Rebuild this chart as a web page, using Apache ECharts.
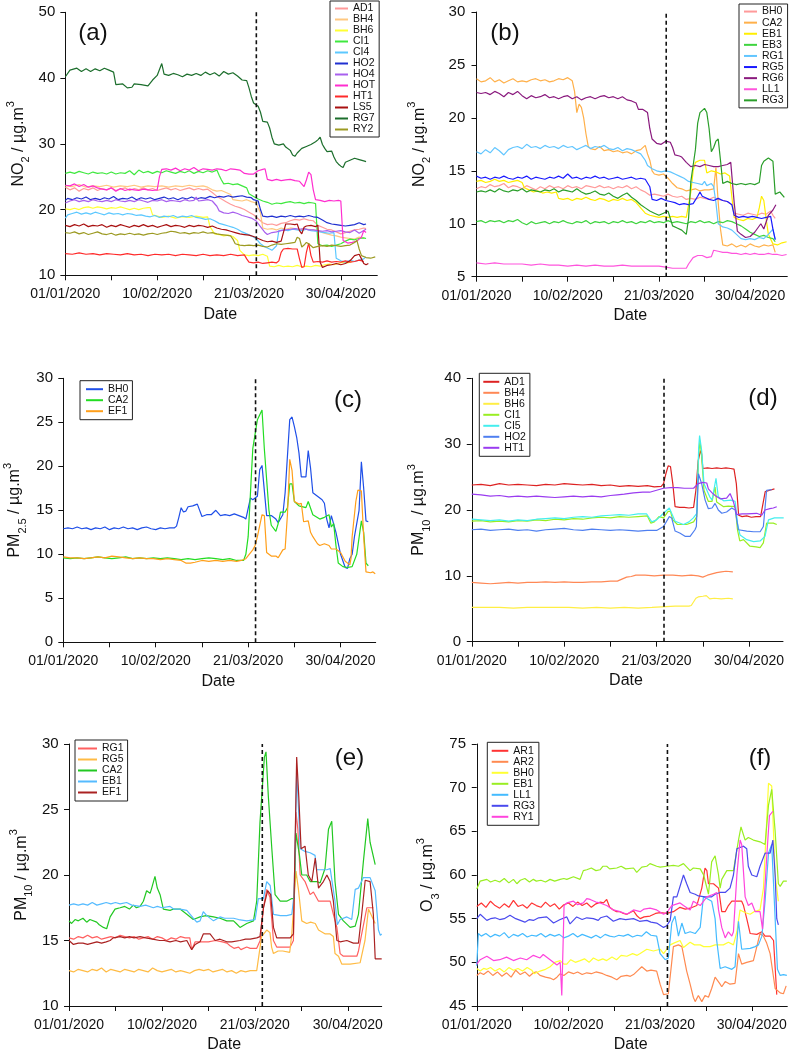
<!DOCTYPE html>
<html><head><meta charset="utf-8">
<script src="https://cdn.jsdelivr.net/npm/echarts@6/dist/echarts.min.js"></script>
<style>html,body{margin:0;padding:0;background:#fff}#c{width:791px;height:1054px}</style>
</head><body><div id="c"></div>
<script>
// ---------- axis ticks ----------
const xTickDays = [0, 40, 80, 120];
const xTickLabels = ['01/01/2020', '10/02/2020', '21/03/2020', '30/04/2020'];
const xMinorDays = [0, 20, 40, 60, 80, 100, 120];
const lockdownDay = 83.2;

// ---------- panel (a) NO2 ----------
const a_AD1 = [0,23.4, 2,23.0, 4,23.3, 6,22.8, 8,23.2, 10,23.0, 12,23.3, 14,22.9, 16,23.2, 18,23.0, 20,23.3, 22,22.9, 24,23.1, 26,23.3, 28,22.9, 30,23.2, 32,23.0, 34,23.3, 36,23.0, 38,23.2, 40,22.9, 42,23.1, 44,23.3, 46,23.0, 48,23.2, 50,22.9, 52,23.1, 54,23.3, 56,23.0, 58,23.2, 60,23.0, 62,23.1, 64,22.6, 66,22.0, 68,21.6, 70,21.2, 72,20.8, 74,20.5, 76,20.3, 78,20.0, 80,19.6, 82,19.2, 84,18.6, 86,18.0, 88,17.7, 90,17.8, 92,17.6, 94,17.9, 96,18.0, 98,18.3, 100,18.5, 102,18.4, 104,18.6, 106,18.4, 108,18.3, 110,17.6, 112,17.3, 114,17.0, 116,16.9, 118,16.6, 120,16.3, 122,16.5, 124,16.7, 126,16.9, 128,17.0, 130,17.2, 131,17.1];
const a_BH4 = [0,23.6, 3,23.5, 6,23.8, 9,23.4, 12,23.6, 15,23.5, 18,23.7, 21,23.4, 24,23.6, 27,23.5, 30,23.7, 33,23.4, 36,23.6, 39,23.5, 42,23.6, 45,23.4, 48,23.6, 51,23.5, 54,23.7, 57,23.5, 60,23.6, 62,23.4, 64,23.0, 66,22.8, 68,22.9, 70,22.6, 72,22.3, 73,21.5, 75,21.4, 77,21.3, 79,21.5, 81,21.2, 83,21.0, 85,19.5, 86,17.2, 88,17.0, 90,17.1, 92,16.9, 94,17.2, 96,17.0, 98,17.2, 100,17.1, 102,16.9, 104,17.1, 106,17.0, 108,16.9, 110,16.8, 112,16.5, 114,16.3, 116,16.1, 118,16.0, 120,15.8, 122,15.7, 124,15.6, 126,15.5, 128,15.8, 130,15.7];
const a_BH6 = [0,20.1, 2,20.0, 4,20.2, 6,20.0, 8,20.3, 10,20.4, 12,20.2, 14,20.4, 16,20.3, 18,20.1, 20,20.3, 22,20.2, 24,20.4, 26,20.2, 28,20.0, 30,20.2, 32,20.0, 34,20.2, 36,20.3, 37,20.3, 38,19.2, 40,19.0, 42,18.8, 45,19.0, 48,18.7, 51,18.9, 54,18.8, 57,19.0, 60,18.8, 62,18.9, 63,17.4, 65,16.3, 67,16.2, 69,16.0, 71,16.1, 73,15.9, 75,15.3, 76,13.8, 78,13.1, 80,13.0, 82,13.1, 84,13.0, 86,13.2, 88,12.9, 89,11.4, 91,11.3, 93,11.5, 95,11.3, 97,11.4, 99,11.3, 101,11.5, 103,11.3, 105,11.4, 107,11.3, 109,11.5, 111,11.4, 113,11.6, 115,11.7, 117,11.6, 119,11.8, 121,12.0, 123,11.9, 125,12.1];
const a_CI1 = [0,25.5, 2,25.7, 4,25.5, 6,25.8, 8,25.6, 10,25.4, 12,25.7, 14,25.5, 16,25.6, 18,25.4, 20,25.7, 22,25.4, 24,25.6, 26,25.5, 28,25.9, 30,25.3, 32,26.0, 34,25.6, 36,25.8, 38,25.5, 40,25.8, 42,25.6, 44,25.9, 46,25.7, 48,25.5, 50,25.8, 52,25.6, 54,25.9, 56,25.5, 58,25.8, 60,25.6, 62,25.9, 64,25.7, 66,26.0, 67,25.2, 68,24.5, 69,23.9, 71,24.0, 73,23.8, 75,23.9, 77,23.6, 79,23.3, 80,22.4, 82,22.0, 84,21.6, 86,21.3, 88,21.1, 90,20.8, 92,21.0, 94,20.9, 96,21.1, 98,21.2, 100,21.0, 102,21.1, 104,20.9, 106,21.1, 108,21.0, 109,20.9, 110,14.8, 112,14.5, 114,14.6, 116,14.4, 118,14.6, 120,14.8, 122,15.2, 124,15.5, 126,15.4, 128,15.6, 130,15.7, 131,15.6];
const a_CI4 = [0,18.7, 1,19.2, 3,19.4, 5,19.6, 7,19.3, 9,19.5, 11,19.3, 13,19.6, 15,19.4, 17,19.2, 19,19.5, 21,19.3, 23,19.4, 25,19.2, 27,19.4, 29,19.3, 31,19.1, 33,19.2, 35,19.0, 37,18.9, 39,19.1, 41,18.8, 43,19.0, 45,18.9, 47,19.1, 49,18.8, 51,19.0, 53,18.9, 55,19.1, 57,18.8, 59,18.7, 61,18.5, 63,18.6, 65,18.3, 67,17.9, 69,17.7, 71,17.5, 73,17.3, 75,17.0, 77,16.6, 79,16.3, 81,16.0, 83,15.6, 85,14.8, 87,14.3, 89,14.0, 90,13.8, 92,14.5, 93,16.8, 95,16.9, 97,16.8, 99,17.0, 101,16.9, 103,16.8, 105,17.0, 107,16.8, 109,16.7, 111,16.6, 113,16.5, 115,16.4, 117,16.5, 118,12.6, 120,12.2, 122,12.0, 124,12.3, 126,12.1, 128,12.3, 130,12.5, 131,12.8];
const a_HO2 = [0,21.4, 1,21.7, 3,21.5, 5,21.8, 7,21.6, 9,21.9, 11,21.5, 13,21.7, 15,21.5, 17,21.8, 19,21.6, 21,22.0, 23,21.5, 25,21.7, 27,21.6, 29,21.9, 31,21.5, 33,21.8, 35,21.6, 37,21.8, 39,21.5, 41,21.7, 43,21.9, 45,21.6, 47,21.8, 49,21.5, 51,21.8, 53,21.6, 55,21.9, 57,21.6, 59,21.8, 61,21.7, 63,22.0, 65,21.8, 67,22.0, 69,21.9, 71,22.1, 73,21.9, 75,22.0, 77,22.1, 79,21.9, 81,21.8, 82,21.5, 84,21.3, 85,20.0, 86,19.0, 88,18.9, 90,19.0, 92,18.8, 94,19.0, 96,18.9, 98,19.1, 100,18.9, 102,19.0, 104,18.9, 106,19.1, 108,18.9, 110,18.8, 112,18.4, 114,18.0, 116,17.8, 118,17.7, 120,17.6, 122,17.5, 124,17.6, 126,17.7, 128,18.0, 130,17.7, 131,17.8];
const a_HO4 = [0,21.0, 2,21.3, 4,21.5, 6,21.2, 8,21.4, 10,21.2, 12,21.5, 14,21.3, 16,21.2, 18,21.4, 20,21.2, 22,21.5, 24,21.3, 26,21.2, 28,21.4, 30,21.2, 32,21.5, 34,21.3, 36,21.1, 38,21.4, 40,21.3, 42,21.5, 44,21.2, 46,21.4, 48,21.3, 50,21.2, 52,21.5, 54,21.3, 56,21.4, 57,21.9, 58,21.3, 60,21.4, 62,21.5, 64,21.3, 66,20.5, 67,19.8, 69,19.5, 71,19.4, 73,19.6, 75,19.4, 77,19.1, 79,18.9, 81,18.7, 83,18.3, 85,17.4, 87,16.5, 88,16.2, 90,16.5, 92,16.6, 94,16.8, 96,16.9, 98,17.0, 100,17.1, 102,17.0, 104,17.1, 106,16.9, 108,16.9, 110,16.8, 112,16.7, 114,16.8, 116,16.6, 118,16.7, 120,16.8, 122,16.6, 124,16.5, 126,16.9, 128,16.4, 130,16.8, 131,17.0];
const a_HOT = [0,23.7, 2,23.6, 4,23.9, 6,23.5, 8,23.8, 10,23.4, 12,23.6, 14,23.3, 16,23.1, 18,23.0, 20,23.3, 22,22.8, 24,23.2, 26,22.9, 28,23.1, 30,23.0, 32,22.9, 34,23.1, 36,23.0, 38,22.9, 40,23.0, 41,25.0, 42,26.1, 44,26.2, 46,26.0, 48,26.3, 50,25.9, 52,26.2, 54,26.0, 56,26.4, 58,25.9, 60,26.2, 62,26.1, 64,26.0, 66,26.2, 68,26.1, 70,25.9, 72,26.2, 74,26.1, 76,26.0, 78,25.5, 80,25.4, 82,25.4, 84,25.9, 86,26.1, 87,26.2, 88,24.6, 90,24.4, 92,24.6, 94,24.4, 96,24.5, 98,24.6, 100,24.4, 102,24.3, 104,23.5, 105,24.5, 106,25.7, 107,25.3, 108,23.0, 109,21.5, 111,21.4, 113,21.2, 115,21.4, 117,21.3, 119,21.4, 120,21.3, 121,15.3, 123,14.9, 125,15.0, 127,15.2, 129,15.8, 130,16.8, 131,16.5];
const a_HT1 = [0,13.3, 3,13.2, 6,13.4, 9,13.2, 12,13.3, 15,13.1, 18,13.3, 21,13.2, 24,13.1, 27,13.3, 30,13.1, 33,13.2, 36,13.0, 39,13.2, 42,13.1, 45,13.2, 48,13.0, 51,13.2, 54,13.1, 57,13.0, 60,13.2, 63,13.0, 66,13.1, 69,13.0, 72,13.2, 75,13.0, 78,13.1, 79,12.5, 80,12.0, 82,11.9, 84,12.0, 86,11.8, 88,11.9, 90,12.0, 92,11.9, 93,12.2, 94,13.5, 95,14.0, 97,14.1, 99,14.0, 101,14.0, 102,12.5, 103,11.2, 104,11.3, 105,13.5, 106,14.9, 107,13.0, 108,12.0, 110,12.1, 112,12.0, 114,12.2, 116,12.0, 118,12.1, 120,12.0, 122,12.2, 124,12.0, 126,12.1, 128,12.3, 130,12.1];
const a_LS5 = [0,17.6, 2,17.4, 4,17.7, 6,17.5, 8,17.8, 10,17.4, 12,17.6, 14,17.5, 16,17.7, 18,17.3, 20,17.6, 22,17.4, 24,17.7, 26,17.5, 28,17.3, 30,17.6, 32,17.4, 34,17.7, 36,17.4, 38,17.6, 40,17.3, 42,17.5, 44,17.7, 46,17.4, 48,17.6, 50,17.5, 52,17.3, 54,17.6, 56,17.4, 58,17.6, 60,17.5, 62,17.3, 64,17.5, 66,17.2, 68,17.0, 70,16.9, 72,16.7, 74,16.5, 76,16.3, 78,16.2, 80,16.1, 82,15.9, 84,15.6, 86,15.3, 88,15.1, 90,15.2, 92,15.0, 94,15.2, 95,16.5, 96,17.8, 98,17.8, 100,17.7, 101,17.8, 102,16.8, 103,16.3, 104,17.3, 105,17.5, 107,17.6, 109,17.4, 110,17.6, 111,12.0, 112,11.2, 114,11.5, 116,11.6, 118,11.8, 120,11.6, 122,11.8, 124,12.2, 126,13.0, 128,13.2, 129,12.5, 130,11.8, 131,11.6, 132,11.8];
const a_RG7 = [0,40.2, 2,41.2, 5,41.5, 7,41.0, 9,41.4, 11,41.0, 13,41.4, 15,41.1, 17,41.5, 19,41.2, 21,40.9, 22,39.0, 25,39.1, 27,38.5, 29,38.6, 30,39.1, 33,39.0, 36,38.8, 38,39.7, 40,40.4, 42,42.2, 43,40.6, 45,40.4, 47,40.7, 49,40.5, 51,40.2, 53,40.6, 55,40.4, 57,40.7, 59,40.4, 61,40.9, 63,40.5, 65,40.8, 67,40.3, 69,41.0, 71,40.6, 73,40.8, 75,40.3, 77,39.7, 79,39.6, 80,38.5, 81,37.2, 82,36.2, 84,35.7, 85,34.8, 86,33.4, 88,33.3, 89,32.4, 90,31.0, 91,30.0, 93,29.8, 95,30.0, 96,29.5, 98,29.0, 99,28.3, 100,28.1, 101,28.6, 103,29.3, 105,29.6, 107,29.9, 109,30.3, 110,30.6, 111,31.0, 112,29.9, 113,29.3, 114,28.8, 116,28.9, 117,28.0, 118,27.3, 119,26.9, 120,26.6, 121,26.4, 122,27.2, 124,27.5, 126,27.8, 128,27.6, 130,27.4, 131,27.3];
const a_RY2 = [0,16.5, 2,16.4, 4,16.6, 6,16.3, 8,16.5, 10,16.2, 12,16.4, 14,16.6, 16,16.3, 18,16.2, 20,16.4, 22,16.1, 24,16.3, 26,16.2, 28,16.4, 30,16.2, 32,16.3, 34,16.1, 36,16.3, 38,16.4, 40,16.2, 42,16.4, 44,16.5, 46,16.7, 48,16.6, 50,16.4, 52,16.5, 54,16.3, 56,16.5, 58,16.4, 60,16.6, 62,16.4, 64,16.5, 66,16.3, 68,16.2, 70,16.1, 72,16.0, 73,15.5, 74,14.8, 76,14.6, 78,14.5, 80,14.6, 82,14.5, 84,14.6, 86,14.4, 88,14.3, 90,14.6, 92,14.8, 94,14.7, 96,14.8, 98,14.9, 100,15.0, 101,15.8, 102,15.6, 103,14.3, 104,14.6, 105,15.0, 106,14.8, 108,14.2, 110,14.4, 112,14.5, 114,14.4, 116,14.6, 118,14.5, 120,14.4, 122,14.5, 124,14.6, 126,15.0, 127,15.3, 128,14.0, 129,13.0, 131,12.7, 133,12.6, 135,12.8];

// ---------- panel (b) NO2 ----------
const b_BH0 = [0,13.3, 2,13.5, 4,13.4, 6,13.7, 8,13.5, 10,13.6, 12,13.8, 14,13.4, 16,13.6, 18,13.5, 20,13.3, 22,13.6, 24,13.4, 26,13.2, 28,13.5, 30,13.3, 32,13.6, 34,13.4, 36,13.5, 38,13.3, 40,13.6, 42,13.4, 44,13.5, 46,13.3, 48,13.6, 50,13.5, 52,13.4, 54,13.6, 56,13.4, 58,13.5, 60,13.3, 62,13.5, 64,13.4, 66,13.6, 68,13.3, 70,13.5, 72,13.2, 74,13.0, 76,12.7, 78,12.8, 80,12.7, 82,12.6, 84,12.8, 86,12.6, 88,12.5, 90,12.6, 92,12.3, 94,12.4, 96,12.3, 98,12.5, 100,12.4, 102,12.3, 104,12.5, 106,12.3, 108,12.2, 110,12.1, 112,11.8, 113,11.0, 115,10.9, 117,10.8, 119,11.0, 121,10.9, 123,10.8, 125,11.0, 127,10.9, 129,11.2, 130,10.8, 131,10.5];
const b_CA2 = [0,23.7, 2,23.4, 4,23.5, 6,23.8, 8,23.4, 10,23.6, 12,23.3, 14,23.5, 16,23.7, 18,23.4, 20,23.5, 22,23.4, 24,23.6, 26,23.7, 28,23.5, 30,23.6, 32,23.4, 34,23.5, 36,23.7, 38,23.6, 40,23.8, 42,23.5, 43,22.5, 44,20.5, 45,21.3, 46,21.0, 47,20.0, 48,18.5, 49,17.3, 50,17.1, 52,17.0, 54,17.3, 56,16.9, 58,17.0, 60,16.8, 62,16.9, 64,16.7, 66,16.8, 68,16.6, 70,16.9, 72,17.0, 74,17.4, 75,16.6, 76,16.0, 77,15.0, 78,14.7, 80,14.6, 82,14.7, 84,14.3, 86,13.8, 88,13.4, 90,13.3, 92,13.1, 94,13.2, 96,13.3, 98,13.1, 100,13.2, 102,13.2, 104,13.3, 105,15.3, 106,12.0, 107,9.5, 108,8.0, 110,7.9, 112,8.1, 114,7.8, 116,8.0, 118,7.8, 120,8.1, 122,7.9, 124,7.8, 126,8.0, 128,7.9, 130,8.0, 131,7.3];
const b_EB1 = [0,14.0, 2,14.1, 4,13.9, 6,14.0, 8,14.2, 10,14.0, 12,14.1, 14,13.9, 16,14.0, 18,14.1, 20,13.9, 21,13.4, 23,13.2, 25,13.0, 27,13.1, 29,12.9, 31,13.0, 33,12.9, 35,13.0, 36,12.4, 38,12.3, 40,12.4, 42,12.2, 44,12.4, 46,12.3, 48,12.5, 50,12.3, 52,12.2, 54,12.4, 56,12.3, 58,12.1, 60,12.3, 62,12.2, 64,12.4, 66,12.2, 68,12.3, 70,12.0, 72,11.5, 74,11.0, 76,10.8, 78,10.7, 80,10.6, 82,10.7, 84,10.6, 86,10.7, 88,10.6, 90,10.7, 92,10.6, 93,11.8, 94,13.0, 95,15.0, 96,15.8, 98,16.0, 100,16.0, 101,14.8, 103,15.0, 105,14.9, 107,14.7, 109,14.8, 111,14.5, 112,12.5, 113,10.6, 115,10.4, 117,10.3, 119,10.5, 121,10.4, 123,10.6, 124,11.5, 125,12.6, 126,12.2, 127,10.5, 128,9.0, 130,8.1, 132,8.0, 134,8.2, 136,8.3];
const b_EB3 = [0,10.2, 2,10.3, 4,10.1, 6,10.3, 8,10.2, 10,10.3, 12,10.1, 14,10.3, 16,10.2, 18,10.4, 20,10.1, 22,9.9, 24,10.2, 26,10.0, 28,10.1, 30,10.2, 32,10.0, 34,10.2, 36,10.1, 38,10.3, 40,10.1, 42,10.0, 44,10.2, 46,10.1, 48,10.3, 50,10.0, 52,10.2, 54,10.1, 56,10.2, 58,10.0, 60,10.2, 62,10.1, 64,10.3, 66,10.1, 68,10.2, 70,10.0, 72,10.2, 74,10.1, 76,10.3, 78,10.1, 80,10.2, 82,10.1, 84,10.3, 86,10.1, 88,10.2, 90,10.1, 92,10.0, 94,10.2, 96,10.1, 98,10.3, 100,10.1, 102,10.2, 104,10.0, 106,10.2, 108,10.1, 110,10.3, 112,10.2, 114,10.0, 116,9.8, 118,9.5, 120,9.2, 122,9.0, 124,8.8, 126,8.9, 128,8.7, 130,8.6, 131,8.3];
const b_RG1 = [0,16.8, 2,16.6, 4,17.0, 6,16.7, 8,17.2, 10,16.9, 12,16.5, 14,17.0, 16,17.2, 18,17.3, 20,17.1, 22,17.5, 24,17.2, 26,17.3, 28,17.1, 30,17.4, 32,17.2, 34,17.3, 36,17.1, 38,17.4, 40,17.2, 42,17.3, 44,17.0, 46,17.2, 48,17.4, 50,17.1, 52,17.3, 54,17.2, 56,17.4, 58,17.1, 60,17.0, 62,17.2, 64,16.9, 66,17.1, 68,17.0, 70,16.8, 72,16.6, 74,16.0, 75,15.5, 77,15.2, 79,15.0, 81,14.9, 83,15.0, 85,14.9, 87,14.7, 89,14.5, 91,14.3, 93,14.0, 95,13.9, 97,13.8, 99,13.7, 100,14.0, 101,13.6, 103,13.8, 104,13.5, 105,12.0, 106,10.0, 108,9.7, 110,9.6, 112,9.4, 114,9.0, 116,8.6, 118,8.5, 120,8.6, 122,8.5, 124,8.7, 126,8.6, 128,9.0, 130,9.5, 131,8.5];
const b_RG5 = [0,14.5, 2,14.3, 4,14.4, 6,14.2, 8,14.4, 10,14.3, 12,14.5, 14,14.3, 16,14.2, 18,14.4, 20,14.3, 22,14.5, 24,14.2, 26,14.4, 28,14.3, 30,14.2, 32,14.4, 34,14.3, 36,14.5, 38,14.3, 40,14.7, 42,14.3, 44,14.4, 46,14.2, 48,14.4, 50,14.3, 52,14.5, 54,14.3, 56,14.4, 58,14.2, 60,14.3, 62,14.4, 64,14.2, 66,14.3, 68,14.4, 70,14.2, 72,14.3, 74,14.2, 76,13.5, 77,12.3, 79,12.2, 81,12.4, 83,12.2, 85,12.1, 87,12.0, 89,11.8, 91,11.9, 93,11.8, 95,11.9, 97,12.6, 98,13.0, 99,12.6, 100,12.5, 102,12.3, 104,12.2, 106,12.4, 108,12.2, 110,12.1, 112,11.8, 113,10.8, 115,10.6, 117,10.7, 119,10.6, 121,10.7, 123,10.6, 125,10.5, 127,10.6, 129,10.7, 130,9.5, 131,8.5];
const b_RG6 = [0,22.4, 2,22.3, 4,22.4, 6,22.2, 8,22.5, 10,22.3, 12,22.0, 14,22.4, 16,22.2, 18,22.5, 20,22.1, 22,21.8, 24,22.1, 26,21.9, 28,22.0, 30,22.2, 32,21.9, 34,22.0, 36,21.8, 38,22.0, 40,22.1, 42,21.8, 44,22.0, 46,21.7, 48,21.9, 50,22.0, 52,21.8, 54,22.0, 56,22.1, 58,21.9, 60,22.0, 62,21.8, 64,22.0, 66,21.7, 68,21.6, 70,21.4, 71,20.8, 73,20.8, 75,20.5, 76,19.0, 77,18.0, 79,17.6, 81,17.5, 83,17.8, 85,17.7, 86,17.2, 87,16.5, 89,16.4, 90,16.3, 92,15.8, 94,15.4, 96,15.5, 98,15.4, 100,15.6, 102,15.5, 104,15.4, 106,15.4, 108,15.5, 110,15.6, 111.5,15.8, 113,12.0, 114.4,9.3, 116,9.0, 118,8.7, 120,8.8, 122,9.2, 124.7,10.0, 126,9.5, 128,10.8, 130,11.3, 131.3,11.8];
const b_LL1 = [0,6.3, 4,6.2, 8,6.3, 12,6.2, 16,6.2, 20,6.2, 24,6.1, 28,6.2, 32,6.1, 36,6.1, 40,6.0, 44,6.1, 48,6.0, 52,6.1, 56,6.0, 60,6.0, 64,6.1, 68,6.0, 72,6.0, 76,6.0, 80,6.0, 83,5.9, 86,5.8, 89,5.8, 92,5.8, 93,6.2, 95,6.8, 97,7.0, 99,7.0, 101,6.8, 103,6.9, 104,7.5, 106,7.4, 108,7.3, 110,7.3, 112,7.2, 114,7.2, 116,7.1, 118,7.2, 120,7.1, 122,7.2, 124,7.1, 126,7.1, 128,7.2, 130,7.1, 132,7.1, 134,7.0, 136,7.1];
const b_RG3 = [0,13.0, 2,13.1, 4,13.0, 6,13.2, 8,13.0, 10,13.3, 12,13.1, 14,13.0, 16,13.2, 18,13.1, 20,13.3, 22,13.0, 24,13.2, 26,13.1, 28,13.0, 30,13.2, 32,13.1, 34,13.3, 36,13.0, 38,13.2, 40,13.1, 42,13.0, 44,13.3, 46,13.0, 48,12.8, 50,12.9, 52,13.1, 54,12.8, 56,12.7, 58,12.9, 60,12.6, 62,12.4, 64,12.7, 66,12.9, 68,12.5, 70,12.2, 72,11.8, 74,11.5, 76,11.2, 78,11.0, 80,10.8, 82,11.0, 84,11.2, 85,10.5, 86,9.8, 88,9.6, 90,9.4, 92,9.0, 93,10.5, 94,14.0, 95,15.5, 96,17.0, 97,19.5, 98,20.5, 100,20.9, 101,20.5, 102,19.0, 103,16.8, 104,17.2, 105,17.8, 106,18.0, 107,16.0, 108,13.8, 110,14.0, 112,13.8, 114,13.7, 116,13.8, 118,13.7, 120,13.8, 122,13.7, 124,13.9, 125,15.5, 126,15.9, 128,16.2, 130,15.9, 131,12.8, 133,13.0, 135,12.5];

// ---------- panel (c) PM2.5 ----------
const c_BH0 = [0,12.9, 2,13.0, 4,12.9, 6,13.1, 8,12.9, 10,13.0, 12,12.8, 14,13.0, 16,12.9, 18,13.1, 20,12.8, 22,13.0, 24,12.9, 26,13.1, 28,12.9, 30,13.0, 32,12.8, 34,13.0, 36,13.1, 38,12.9, 40,12.8, 42,13.0, 44,12.9, 46,13.0, 48,13.0, 49,13.2, 50,14.2, 51,15.3, 52,14.8, 53,14.9, 54,15.4, 56,15.5, 58,15.7, 60,14.3, 62,14.5, 64,14.5, 66,15.0, 68,14.4, 70,14.5, 72,14.4, 74,14.6, 76,14.4, 78,14.2, 79,14.0, 81,16.4, 82,16.2, 84,16.6, 85,19.6, 86,20.1, 88,14.4, 90,14.4, 92,14.0, 93,13.6, 95,14.5, 96,17.0, 98,25.3, 99,25.6, 100,24.5, 101,23.3, 102,21.5, 103,18.8, 105,18.8, 106,21.8, 107,19.8, 108,17.0, 110,16.6, 112,16.2, 113,15.8, 114,14.0, 115,13.0, 116,14.4, 118,12.5, 120,10.0, 122,8.5, 123,8.4, 124,9.5, 125,10.0, 126,12.0, 128,15.0, 129,20.5, 130,17.5, 131,13.8, 132,13.7];
const c_CA2 = [0,9.6, 3,9.5, 6,9.6, 9,9.5, 12,9.6, 15,9.7, 18,9.6, 21,9.5, 24,9.6, 27,9.7, 30,9.5, 33,9.6, 36,9.5, 39,9.6, 42,9.5, 45,9.6, 48,9.5, 51,9.4, 54,9.5, 57,9.4, 60,9.5, 63,9.6, 66,9.5, 69,9.4, 72,9.5, 75,9.3, 78,9.3, 79,10.0, 80,12.0, 81,17.0, 82,22.0, 84,25.3, 86,26.4, 87,22.0, 89,15.0, 90,13.3, 92,12.6, 93,13.5, 94,14.8, 96,14.8, 97,15.3, 98,18.0, 99,18.0, 100,16.0, 102,15.5, 105,15.3, 106,16.0, 108,14.5, 111,14.0, 113,14.2, 115,14.5, 116,13.1, 117,13.5, 118,11.0, 119,9.0, 121,8.6, 123,8.5, 125,8.6, 127,10.0, 129,13.8, 130,12.5, 131,9.0, 132,8.7];
const c_EF1 = [0,9.7, 3,9.6, 6,9.6, 9,9.5, 12,9.6, 15,9.7, 18,9.6, 21,9.8, 24,9.7, 27,9.6, 30,9.5, 33,9.6, 36,9.5, 39,9.5, 42,9.4, 45,9.5, 48,9.4, 51,9.3, 53,9.0, 55,9.0, 57,9.1, 60,9.3, 63,9.2, 66,9.3, 69,9.2, 72,9.3, 75,9.2, 77,9.3, 79,9.5, 82,10.5, 83,11.0, 84,12.0, 86,14.5, 87,14.4, 88,10.2, 90,9.8, 92,9.8, 93,9.6, 95,10.5, 96,10.6, 97,14.5, 98,20.8, 99,19.5, 100,16.0, 102,15.7, 103,15.8, 104,13.7, 106,13.8, 107,12.5, 108,12.0, 110,11.2, 111,11.0, 113,11.2, 115,11.0, 116,10.6, 118,10.6, 120,10.2, 122,9.2, 124,8.8, 124.5,9.5, 125,12.0, 126.6,16.0, 127.5,17.3, 129,17.2, 130,12.0, 131,8.0, 133,7.9, 134,8.0, 135,7.8];

// ---------- panel (d) PM10 ----------
const d_AD1 = [0,23.8, 4,23.9, 8,23.7, 12,24.0, 16,23.8, 20,23.9, 24,23.8, 28,23.7, 32,23.9, 36,23.8, 40,24.0, 44,23.9, 48,23.8, 52,23.9, 56,23.7, 60,23.8, 64,23.6, 68,23.7, 72,23.6, 76,23.7, 79,23.5, 82,23.6, 83,24.0, 84,25.5, 85,26.7, 86,26.6, 87,24.0, 88,20.5, 90,20.4, 92,20.4, 94,20.3, 96,20.4, 97,23.0, 98,27.5, 99,29.0, 99.5,28.5, 100,26.3, 102,26.4, 104,26.3, 106,26.4, 108,26.3, 110,26.4, 112,26.3, 113.5,26.2, 114.5,24.0, 115.5,19.2, 117,19.0, 119,19.1, 121,18.9, 123,19.0, 125,19.0, 127,22.8, 129,23.0, 131,23.2];
const d_BH4 = [0,9.0, 4,8.9, 8,8.8, 12,8.9, 16,9.0, 20,8.9, 24,9.0, 28,9.0, 32,9.1, 36,9.0, 40,9.1, 44,9.0, 48,9.0, 52,9.1, 56,9.1, 60,9.2, 63,9.2, 65,9.5, 67,9.8, 69,9.9, 71,10.1, 75,10.1, 79,10.0, 83,10.1, 87,10.1, 91,10.0, 95,10.1, 98,10.0, 100,9.8, 102,10.1, 104,10.3, 106,10.5, 108,10.6, 110,10.7, 113,10.6];
const d_BH6 = [0,5.2, 6,5.2, 12,5.2, 18,5.1, 24,5.2, 30,5.2, 36,5.2, 42,5.2, 48,5.1, 54,5.2, 60,5.1, 66,5.2, 72,5.1, 78,5.2, 82,5.3, 88,5.4, 94,5.4, 95,5.5, 97,6.6, 98,6.8, 100,6.9, 101.5,7.0, 103,6.5, 105,6.6, 108,6.5, 111,6.6, 113,6.5];
const d_CI1 = [0,18.3, 4,18.4, 8,18.2, 12,18.3, 16,18.2, 20,18.4, 24,18.3, 28,18.5, 32,18.4, 36,18.6, 40,18.5, 44,18.7, 48,18.6, 52,18.8, 56,18.9, 60,18.8, 64,19.0, 68,18.9, 72,19.0, 76,19.1, 77.5,18.0, 79,18.2, 81,19.0, 83,18.8, 85,19.8, 86,19.8, 87,18.5, 89,17.8, 91,17.8, 93,17.8, 96,18.2, 97.4,19.0, 98.2,28.5, 98.8,30.5, 99.5,28.0, 100.5,23.0, 102.4,21.3, 104,21.3, 105.3,23.5, 106,21.2, 109,20.5, 111,20.6, 114,20.5, 115,17.0, 116,15.3, 117.6,15.5, 120.4,14.5, 123,14.4, 124.8,14.3, 126.2,15.0, 127.6,18.0, 130.5,18.0, 132,17.8];
const d_CI5 = [0,18.6, 4,18.5, 8,18.4, 12,18.5, 16,18.3, 20,18.5, 24,18.4, 28,18.6, 32,18.7, 36,18.8, 40,18.7, 44,18.9, 48,19.0, 52,18.9, 56,19.1, 60,19.2, 64,19.3, 68,19.2, 72,19.4, 75.7,19.4, 77.9,18.2, 80,18.5, 83,19.5, 85.5,20.3, 86.5,19.5, 88,18.3, 91.6,17.8, 94,18.2, 95.9,18.8, 97.4,19.5, 98.2,29.5, 98.6,31.3, 99.5,29.0, 100.5,24.0, 103,22.0, 104,21.5, 105.7,24.8, 106.7,22.0, 109,21.4, 112,21.5, 114,21.3, 115,18.0, 116.1,16.2, 119,15.5, 122,15.2, 124.8,15.3, 126.9,16.0, 128.4,18.5, 131,18.8, 135,18.8];
const d_HO2 = [0,17.0, 4,17.1, 8,16.9, 12,17.0, 16,17.1, 20,16.9, 24,17.0, 28,16.8, 32,17.0, 36,17.1, 40,17.2, 44,17.0, 48,16.9, 52,17.1, 56,17.0, 60,16.9, 64,17.0, 68,16.9, 72,16.8, 76,16.9, 80,16.9, 83,17.5, 85.5,19.0, 86.5,18.8, 88,16.8, 90,16.5, 92.3,16.0, 94.5,16.0, 96.6,17.0, 97.2,17.5, 98.1,25.5, 99.5,24.0, 101,21.5, 102.4,20.2, 104,20.3, 105.3,21.0, 106.7,20.0, 108.2,19.5, 110.3,19.7, 112.5,20.3, 114,20.0, 115.4,17.0, 119,16.8, 122,16.7, 124.8,16.7, 126.2,17.5, 127.6,23.0, 129.8,23.1];
const d_HT1 = [0,22.4, 4,22.3, 8,22.1, 12,22.2, 16,22.0, 20,22.1, 24,22.0, 28,22.1, 32,22.0, 36,21.9, 40,22.0, 44,22.1, 48,22.0, 52,22.1, 56,22.0, 60,22.2, 63,22.3, 66,22.4, 70,22.6, 74,22.7, 77,22.7, 80,23.0, 83,23.3, 86,23.4, 89,23.4, 92,23.3, 96,23.3, 98,24.0, 100,24.2, 101.7,24.1, 102.4,23.2, 104,22.6, 105.3,22.2, 107.5,21.7, 110.3,21.8, 111.8,22.5, 113.2,21.3, 114.7,19.3, 117,19.4, 119,19.4, 123.3,19.5, 125.5,19.2, 126.9,20.0, 129,20.2, 130.5,20.3, 132,20.5];

// ---------- panel (e) PM10 ----------
const e_RG1 = [0,15.2, 2,15.1, 4,15.3, 6,15.2, 8,15.4, 10,15.2, 12,15.3, 14,15.1, 16,15.2, 18,15.3, 20,15.2, 22,15.4, 24,15.3, 26,15.2, 28,15.3, 30,15.1, 32,15.2, 34,15.3, 36,15.1, 38,15.3, 40,15.2, 42,15.0, 44,15.2, 46,15.1, 48,15.3, 50,15.2, 52,15.2, 52.8,14.3, 54.3,14.9, 57,14.9, 60,14.9, 63,15.0, 66,14.9, 68,14.8, 69.3,14.6, 71,14.4, 73,14.5, 74,14.3, 76.5,14.5, 78,14.4, 80.8,14.4, 82.3,15.0, 83.7,17.5, 85.1,18.9, 86.5,18.3, 88,15.0, 89.4,14.5, 92,14.5, 95.2,14.5, 96.6,15.0, 97.7,24.8, 98.5,23.5, 99.5,20.0, 101.6,19.5, 103.8,18.5, 105.2,18.7, 107.4,18.0, 110,18.0, 112.4,18.0, 113.8,17.0, 115.3,16.0, 116.7,14.0, 118.1,13.8, 121,13.8, 123.9,13.8, 124.6,14.2, 126,15.5, 128.2,17.5, 131,17.5];
const e_RG5 = [0,12.7, 2,12.6, 4,12.8, 6,12.7, 8,12.6, 10,12.8, 12,12.7, 14,12.9, 16,12.6, 18,12.8, 20,12.7, 22,12.6, 24,12.8, 26,12.7, 28,12.6, 30,12.8, 32,12.7, 34,12.6, 36,12.9, 38,12.7, 40,12.6, 42,12.7, 44,12.8, 46,12.6, 48,12.7, 50,12.6, 52,12.5, 54,12.7, 56,12.8, 58,12.7, 60,12.8, 62,12.6, 64,12.7, 66,12.8, 68,12.6, 70,12.7, 72,12.5, 74,12.7, 76,12.6, 78,12.7, 80.8,12.7, 82.9,15.3, 85.1,15.8, 86.5,15.6, 87.2,14.5, 88,14.0, 90,14.2, 92,14.2, 95,14.1, 95.9,15.5, 97.7,20.3, 98.7,19.0, 100.2,16.5, 102.3,16.3, 104,16.4, 106,16.3, 107.4,15.8, 110.3,15.5, 112.4,15.5, 113.8,15.3, 114.5,14.0, 116,13.8, 117.4,13.2, 121,13.2, 125.3,13.3, 127.4,15.0, 128.9,17.4, 131.8,16.3];
const e_CA2 = [0,16.5, 1.1,16.3, 2.6,16.6, 4,16.5, 6,16.7, 7.6,16.4, 9,16.6, 11.9,16.4, 13,16.2, 14.8,16.0, 16.2,15.9, 17.7,16.8, 19.8,17.4, 22,17.5, 24,17.6, 26,17.4, 27.7,17.7, 29,17.5, 30.6,17.6, 32,18.0, 33.4,18.8, 34.9,18.6, 35.6,19.0, 37,19.9, 38,19.0, 39.2,18.5, 40.6,17.4, 43.5,17.3, 45,17.4, 47.8,17.4, 50.7,17.0, 53.5,16.6, 56.4,16.8, 59,16.9, 62.2,16.8, 65,16.7, 67.9,16.5, 70.8,16.5, 72,16.3, 73.6,16.0, 76.5,16.3, 79.4,16.5, 80.8,18.0, 82.2,24.0, 84.1,29.0, 84.8,29.4, 85.8,26.0, 87.3,22.0, 88.7,18.5, 90.9,18.0, 93.7,18.0, 95.9,18.2, 96.9,18.2, 97.7,23.2, 99.2,21.5, 100.2,20.0, 102.3,20.0, 103.8,19.5, 106.6,19.5, 108.1,19.4, 110.2,20.5, 111.7,23.5, 113.1,24.1, 113.8,24.0, 114.5,19.5, 116,17.0, 118.1,16.5, 121,16.0, 123.2,16.1, 124.6,17.0, 126.7,21.0, 128.6,24.3, 129.6,22.5, 131.8,20.8];
const e_EB1 = [0,17.7, 2,17.8, 4,17.7, 6,17.8, 8,17.7, 10,17.9, 12,17.7, 14,17.8, 16,17.9, 18,17.8, 20,17.9, 22,17.8, 24.8,17.9, 27,17.7, 30.6,17.6, 33,17.7, 36.3,17.5, 38,17.6, 40,17.5, 43.5,17.6, 45,17.4, 47.8,17.4, 50.7,17.3, 53.5,16.7, 55,16.4, 56.4,16.5, 57.8,17.2, 59.3,16.9, 62.2,16.5, 65,16.8, 67,16.7, 70.8,16.7, 73,16.6, 76.5,16.5, 80.1,16.6, 81.5,18.2, 83.7,18.2, 85.1,19.5, 86.6,19.2, 88,17.0, 91,16.9, 93.7,16.9, 95.9,17.0, 96.9,18.5, 98,28.0, 98.8,25.0, 99.5,22.0, 101.6,21.8, 103.8,21.7, 105.9,21.5, 106.6,20.4, 109,20.4, 111,20.4, 112.4,20.5, 114.5,18.0, 115.5,16.2, 116.7,16.6, 119.6,16.8, 121.7,16.6, 123.2,18.9, 124.6,19.0, 126.7,19.8, 129.6,19.8, 131.8,18.8, 133.2,15.8, 134,15.4, 134.6,15.5];
const e_EF1 = [0,15.0, 1.9,14.7, 4,14.8, 6,14.8, 8,14.7, 10,14.8, 12,14.9, 14,14.8, 16,14.9, 17.7,15.0, 19,15.2, 22,15.3, 24,15.2, 26,15.3, 28,15.2, 30.6,15.3, 33,15.2, 36,15.1, 39,15.0, 41,15.0, 43.5,14.9, 46,15.0, 48,14.9, 50.7,15.0, 52.8,14.3, 54.3,14.7, 56.4,14.9, 57.8,15.5, 60.7,15.5, 62.9,15.0, 65,15.1, 67.9,14.9, 70,14.9, 73.6,15.0, 76,15.1, 78,15.1, 80.8,15.2, 82.2,15.3, 83.7,17.5, 85.5,18.8, 86.8,18.5, 88,16.0, 89.4,15.2, 92,15.2, 95.2,15.2, 96.6,15.5, 98,29.0, 98.9,26.0, 99.9,22.0, 101.6,22.2, 103,20.0, 104.5,19.5, 106,21.3, 107.4,19.0, 109.5,19.5, 111,20.0, 112.4,19.5, 113.8,18.0, 115.3,15.0, 116.7,14.9, 119.6,15.0, 122.4,14.8, 124.6,14.8, 126,17.0, 127.5,19.6, 129.6,19.5, 131,17.0, 131.8,13.6, 134.6,13.6];

// ---------- panel (f) O3 ----------
const f_AR1 = [0,56.4, 2,56.8, 4,56.3, 6,57.0, 8,56.5, 10,56.2, 12,56.7, 14,56.3, 16,57.1, 18,56.4, 20,56.6, 22,56.2, 24,56.8, 26,56.5, 28,56.3, 30,56.9, 32,56.4, 34,56.7, 36,56.1, 38,56.6, 40,56.8, 42,56.4, 44,56.9, 46,56.5, 48,56.8, 50,56.3, 52,56.7, 54,56.9, 55.3,56.8, 56.7,57.2, 58,56.3, 59.6,56.0, 61,55.8, 62.5,55.8, 64,55.6, 65.5,55.5, 67,55.7, 68.4,55.9, 70,55.3, 71.3,55.0, 73,55.2, 75.6,55.3, 78,55.6, 80,55.7, 82.9,55.6, 85.8,55.8, 88.7,56.3, 91,56.1, 93.1,56.2, 96,56.5, 98.2,58.5, 99.6,60.8, 100.4,60.5, 101.1,59.0, 103.3,59.0, 105.5,58.5, 106.9,55.8, 108.4,55.8, 109.8,56.5, 111.3,57.0, 113,57.0, 115.6,57.0, 116.4,56.5, 117.8,55.0, 119.3,53.3, 122.2,53.2, 124.4,53.5, 125.8,53.0, 128,53.0, 129.5,52.5, 130.9,46.3];
const f_AR2 = [0,48.5, 1.5,48.8, 3,48.6, 5,49.0, 7,48.5, 9,48.9, 11,48.4, 13,48.8, 15,48.3, 17,49.1, 19,48.6, 21,48.9, 23,48.4, 24.7,48.8, 26,48.9, 27.6,48.5, 30,48.3, 32,48.2, 33.5,48.0, 35,48.3, 36.4,48.7, 38,48.5, 40,48.9, 42.2,48.7, 44,48.9, 46,48.6, 48,48.8, 50,48.7, 52,48.9, 53.8,48.8, 55,48.7, 56.7,48.5, 59,48.3, 61.1,48.0, 63,48.4, 65.5,48.5, 67,48.4, 68.4,48.6, 70,49.0, 72,49.5, 74.2,49.0, 76,49.1, 78.5,49.0, 80,47.5, 81.5,46.3, 83.6,46.4, 85.8,51.8, 88,52.0, 89.5,51.8, 91.6,49.0, 93.1,47.5, 94.5,46.0, 95.3,45.5, 96.7,46.2, 98.2,45.5, 99.6,46.2, 101.1,46.0, 102.5,47.0, 104,48.3, 104.7,48.5, 106.2,47.5, 106.9,47.2, 108.4,47.8, 110.5,47.5, 112.7,47.6, 114.2,51.0, 115.6,49.8, 117.8,50.0, 120.7,50.2, 122.2,51.8, 123.6,53.3, 125.1,53.0, 126.5,52.2, 128,51.0, 130.2,47.0, 132.4,46.5, 133.8,46.4, 135,47.3];
const f_BH0 = [0,49.3, 1.5,49.0, 3,49.3, 4.4,49.2, 6,49.4, 8,49.0, 10,49.3, 12,48.9, 14,49.4, 16,49.1, 18,49.3, 20,49.0, 22,49.4, 24,49.1, 25,48.7, 27.6,49.0, 30,49.2, 32,49.5, 34,50.0, 36.4,50.2, 38,49.8, 39.3,49.8, 41,50.3, 43,50.0, 45.1,50.2, 47,50.4, 49,50.0, 50.9,50.5, 53,50.2, 55,50.4, 56.7,50.2, 59,50.6, 61,50.3, 63,50.8, 65.5,50.7, 68,51.0, 70,50.8, 71.3,51.0, 74.2,51.5, 77.1,51.3, 80,51.5, 81.5,51.0, 82.9,51.5, 84.4,52.0, 86,52.2, 88.7,52.5, 90.2,51.7, 93.1,52.3, 95,52.0, 97.5,52.0, 99,51.8, 101.8,51.8, 104,52.0, 107.6,52.0, 109.8,52.3, 112,52.0, 113.5,53.5, 114.9,56.0, 117,55.7, 119.3,55.5, 121,55.8, 123.6,56.0, 125.1,58.5, 127.3,70.5, 128.7,70.2, 130.2,60.0, 131.6,57.0];
const f_EB1 = [0,58.4, 1.5,59.3, 4.4,59.5, 6,59.2, 8,59.4, 10,59.2, 12,59.6, 14,59.1, 16,59.5, 17.5,59.0, 19,59.4, 21,59.6, 23,59.2, 24.7,59.5, 26,59.3, 28,59.4, 30,59.2, 32,59.5, 34,59.3, 36.4,59.5, 38,59.6, 39.3,59.5, 42.2,59.8, 45.1,59.5, 46.5,60.5, 48,60.6, 50,60.8, 52,60.5, 53.8,60.6, 55,61.0, 56.7,61.0, 58,60.7, 61.1,60.8, 63,61.0, 65,60.7, 68.4,60.8, 69.8,60.3, 72,60.9, 74.2,61.0, 75.6,61.3, 78.5,61.0, 80,60.9, 82.9,61.0, 85.8,61.1, 88,61.0, 90.2,61.3, 93.1,60.5, 94.5,60.8, 97.5,60.7, 99,60.0, 101.1,57.8, 102.5,61.5, 104,62.2, 105.5,60.0, 106.2,58.5, 106.9,59.5, 109.1,60.5, 112,60.5, 112.7,60.3, 114.2,64.0, 115.3,65.5, 117.1,64.0, 118.5,64.3, 120.7,64.0, 123.6,63.8, 125.8,63.5, 127.3,68.0, 128.7,69.8, 130.2,65.0, 131.6,59.0, 132.4,58.7, 133.8,59.3, 135.3,59.3];
const f_LL1 = [0,49.6, 0.7,53.3, 2,53.0, 4,53.3, 6,52.9, 8,53.2, 10,53.0, 12,53.4, 14,52.8, 16,53.2, 18,53.0, 20,53.3, 22,52.9, 24,53.1, 26,53.0, 28,53.3, 30,52.9, 32,53.2, 34,53.0, 36,53.2, 38,52.8, 40,53.0, 42,53.3, 44,52.9, 46,53.2, 48,53.0, 50,52.8, 52,53.1, 54,52.8, 56,53.2, 58,53.0, 60,52.9, 62,53.1, 64,53.0, 66,53.2, 68,52.9, 70,53.1, 72,53.0, 74,53.5, 76,53.1, 78.5,53.0, 80,51.0, 82.2,50.3, 83.6,50.5, 85.1,54.5, 86.5,55.3, 88,53.0, 89.5,54.5, 90.9,53.3, 93.1,53.5, 95.3,53.3, 97.5,54.0, 98.9,57.5, 100.4,57.3, 102.5,57.0, 104,55.0, 104.7,52.5, 106.2,49.3, 108.4,49.5, 111.3,49.2, 112.7,49.5, 114.2,54.7, 115.6,51.5, 119.3,51.6, 121.5,51.8, 122.9,52.0, 124.4,53.0, 125.8,57.0, 127.3,62.5, 128.7,63.5, 130.2,55.0, 131.2,49.2, 132.4,48.5, 133.8,48.6, 135.3,48.5];
const f_RG3 = [0,55.0, 1.5,55.5, 2.2,55.7, 4.4,54.8, 6,55.0, 8,55.1, 10,54.9, 12,55.0, 14.5,55.4, 17,55.0, 19,54.8, 21,54.6, 23,54.9, 24.7,54.8, 27,55.1, 30.5,55.2, 33.5,54.5, 36.4,54.9, 39.3,55.2, 40.7,54.4, 43.6,55.2, 46,54.9, 48,55.1, 50.9,55.0, 53,54.8, 54,55.1, 56.7,55.3, 59.6,54.7, 62.5,55.0, 65,54.9, 68.4,55.0, 71,54.7, 74.2,54.8, 76,54.6, 78.5,54.5, 81.5,54.0, 82.9,54.2, 84.4,54.8, 85.8,57.5, 87.3,57.5, 90.2,60.0, 91.6,59.0, 93.1,58.0, 95.3,57.8, 96.7,57.6, 99.6,57.5, 102.5,57.5, 104,57.8, 106.2,58.0, 108.4,58.0, 110.5,58.5, 112,60.0, 113.5,63.0, 116.4,63.3, 117.8,63.0, 118.5,61.0, 120,60.0, 122.2,59.8, 123.6,61.0, 125.8,62.5, 128,62.5, 129.2,64.0, 130.2,60.0, 130.9,55.0, 131.6,54.3];
const f_RY1 = [0,49.8, 1.5,50.3, 4.4,50.7, 7.3,50.2, 10,50.3, 13,50.6, 16,50.2, 19,50.5, 21.8,50.3, 24.7,50.8, 27.6,50.5, 29,50.9, 32,50.3, 35,49.7, 36.4,50.0, 37.1,46.2, 38.1,56.5, 39.3,56.8, 42.2,57.0, 44,56.6, 46.5,56.8, 48,57.3, 49.5,57.2, 52,56.9, 53.8,56.8, 56.7,56.5, 59.6,56.0, 62.5,55.8, 65.5,55.5, 68.4,56.0, 71.3,55.8, 73,56.1, 75.6,56.2, 78.5,56.0, 81.5,55.5, 82.9,55.7, 85.1,56.5, 88.7,56.8, 90.2,56.5, 93.1,56.0, 94.5,57.0, 97.5,56.5, 100.4,57.5, 103.3,57.8, 104.7,58.0, 105.5,56.0, 106.9,54.0, 108.4,52.8, 109.8,53.5, 111.3,53.0, 112,53.5, 113.5,60.0, 114.9,64.0, 115.6,63.5, 117.1,57.5, 118.5,56.5, 120,56.8, 121.5,55.8, 123.6,55.8, 124.7,53.8, 126.5,62.0, 127.7,66.8, 129.2,67.3];

// ---------- layout / style configuration ----------
const FONT = '"Liberation Sans", Arial, Helvetica, sans-serif';
const panels = [
  { key:'a', label:'(a)', labelXY:[93,33], grid:{left:63.3, top:12.3, width:314, height:263}, x:[-0.9,135.9], y:[10,50,10], nameGap:32,
    yName:'{m|NO}{s|2}{m| / µg.m}{p|3}',
    legend:{left:330, top:1, padding:[2,4,2,5], itemWidth:13, lh:10.85},
    series:[['AD1',a_AD1,'#ff9a9a'],['BH4',a_BH4,'#ffc880'],['BH6',a_BH6,'#ffff33'],['CI1',a_CI1,'#3fe83f'],['CI4',a_CI4,'#5cc8ff'],['HO2',a_HO2,'#2030d0'],['HO4',a_HO4,'#a860ee'],['HOT',a_HOT,'#ff2ecf'],['HT1',a_HT1,'#ff2a2a'],['LS5',a_LS5,'#a81010'],['RG7',a_RG7,'#1c6e2c'],['RY2',a_RY2,'#9c9a22']] },
  { key:'b', label:'(b)', labelXY:[505,33], grid:{left:473.3, top:12, width:314, height:264.7}, x:[-1.4,136.3], y:[5,30,5], nameGap:41,
    yName:'{m|NO}{s|2}{m| / µg.m}{p|3}',
    legend:{left:739, top:4, padding:[2,4,2,5], itemWidth:13, lh:11.1},
    series:[['BH0',b_BH0,'#ff9a9a'],['CA2',b_CA2,'#ffb04a'],['EB1',b_EB1,'#ffee00'],['EB3',b_EB3,'#3fd43f'],['RG1',b_RG1,'#62c6ff'],['RG5',b_RG5,'#1a1aff'],['RG6',b_RG6,'#8a1a7e'],['LL1',b_LL1,'#ff55dd'],['RG3',b_RG3,'#2a9e2a']] },
  { key:'c', label:'(c)', labelXY:[348,400], grid:{left:61, top:378.3, width:314.7, height:264}, x:[-1.0,135.2], y:[0,30,5], nameGap:33,
    yName:'{m|PM}{s|2.5}{m| / µg.m}{p|3}',
    legend:{left:80, top:380.7, padding:[3,4,3,6], itemWidth:17, lh:10.5},
    series:[['BH0',c_BH0,'#1f4fe8'],['CA2',c_CA2,'#22dd22'],['EF1',c_EF1,'#ff9f1a']] },
  { key:'d', label:'(d)', labelXY:[763,398], grid:{left:469, top:378.3, width:314, height:263.4}, x:[-1.2,134.7], y:[0,40,10], nameGap:37,
    yName:'{m|PM}{s|10}{m| / µg.m}{p|3}',
    legend:{left:479.3, top:373.3, padding:[3,4,3,4], itemWidth:16, lh:10.7},
    series:[['AD1',d_AD1,'#dd2222'],['BH4',d_BH4,'#ff8855'],['BH6',d_BH6,'#ffee44'],['CI1',d_CI1,'#99ee22'],['CI5',d_CI5,'#44eeee'],['HO2',d_HO2,'#4f7ff0'],['HT1',d_HT1,'#9a3cf0']] },
  { key:'e', label:'(e)', labelXY:[349.5,758], grid:{left:66.7, top:744, width:315, height:264.3}, x:[-1.0,134.6], y:[10,30,5], nameGap:32,
    yName:'{m|PM}{s|10}{m| / µg.m}{p|3}',
    legend:{left:75, top:740, padding:[3,4,3,3], itemWidth:19, lh:10.5},
    series:[['RG1',e_RG1,'#ff6060'],['RG5',e_RG5,'#ffbb44'],['CA2',e_CA2,'#22c822'],['EB1',e_EB1,'#55bbff'],['EF1',e_EF1,'#aa2222']] },
  { key:'f', label:'(f)', labelXY:[760,758], grid:{left:474, top:744, width:313.3, height:264.3}, x:[-1.2,135.5], y:[45,75,5], nameGap:33,
    yName:'{m|O}{s|3}{m| / µg.m}{p|3}',
    legend:{left:487.3, top:742.3, padding:[3,4,3,4.4], itemWidth:16.6, lh:10.7},
    series:[['AR1',f_AR1,'#ff3333'],['AR2',f_AR2,'#ff8a50'],['BH0',f_BH0,'#ffff33'],['EB1',f_EB1,'#99ee22'],['LL1',f_LL1,'#44bbff'],['RG3',f_RG3,'#4a4aee'],['RY1',f_RY1,'#ff44dd']] }
];

function toPairs(flat){ const out=[]; for(let i=0;i<flat.length;i+=2) out.push([flat[i],flat[i+1]]); return out; }

const option = { animation:false, backgroundColor:'#fff', grid:[], xAxis:[], yAxis:[], series:[], legend:[], graphic:[] };
const richName = {
  m:{fontSize:16, lineHeight:26, fontFamily:FONT, color:'#111'},
  s:{fontSize:11, lineHeight:11, verticalAlign:'bottom', fontFamily:FONT, color:'#111'},
  p:{fontSize:11, lineHeight:11, verticalAlign:'top', fontFamily:FONT, color:'#111'}
};
panels.forEach((p, i) => {
  option.grid.push(Object.assign({containLabel:false}, p.grid));
  option.xAxis.push({
    type:'value', gridIndex:i, min:p.x[0], max:p.x[1],
    name:'Date', nameLocation:'middle', nameGap:31,
    nameTextStyle:{fontSize:16, fontFamily:FONT, color:'#111'},
    axisLine:{show:true, onZero:false, lineStyle:{color:'#111', width:1}},
    axisTick:{show:true, inside:false, length:5, customValues:xMinorDays, lineStyle:{color:'#111'}},
    axisLabel:{show:true, margin:12, fontSize:14, fontFamily:FONT, color:'#111', customValues:xTickDays,
      formatter: v => { const k = xTickDays.indexOf(Math.round(v)); return k >= 0 ? xTickLabels[k] : ''; } },
    splitLine:{show:false}
  });
  option.yAxis.push({
    type:'value', gridIndex:i, min:p.y[0], max:p.y[1], interval:p.y[2],
    name:p.yName, nameLocation:'middle', nameGap:p.nameGap, nameRotate:90,
    nameTextStyle:{rich:richName, fontFamily:FONT, color:'#111'},
    axisLine:{show:true, lineStyle:{color:'#111', width:1}},
    axisTick:{show:true, inside:false, length:5, lineStyle:{color:'#111'}},
    axisLabel:{show:true, margin:8, fontSize:15, fontFamily:FONT, color:'#111'},
    splitLine:{show:false}
  });
  const names = [];
  p.series.forEach(([nm, arr, col]) => {
    const sid = p.key + ':' + nm;
    names.push(sid);
    option.series.push({
      type:'line', name:sid, xAxisIndex:i, yAxisIndex:i, data:toPairs(arr),
      showSymbol:false, symbol:'none', color:col, lineStyle:{color:col, width:1.2}, silent:true
    });
  });
  option.series.push({
    type:'line', name:p.key+':lockdown', xAxisIndex:i, yAxisIndex:i,
    data:[[lockdownDay, p.y[0]],[lockdownDay, p.y[1]]], showSymbol:false, symbol:'none',
    color:'#111', lineStyle:{color:'#111', width:1.6, type:[4,3]}, silent:true, z:5
  });
  option.legend.push({
    orient:'vertical', left:p.legend.left, top:p.legend.top, padding:p.legend.padding,
    data:names, selectedMode:false, icon:'rect', itemWidth:p.legend.itemWidth, itemHeight:2, itemGap:0,
    backgroundColor:'#fff', borderColor:'#222', borderWidth:1, borderRadius:0,
    formatter: n => n.split(':')[1],
    textStyle:{fontSize:10.5, lineHeight:p.legend.lh, fontFamily:FONT, color:'#111'}
  });
  option.graphic.push({
    type:'text', x:p.labelXY[0], y:p.labelXY[1], z:10,
    style:{text:p.label, fontSize:24, fontFamily:FONT, fill:'#111', align:'center', verticalAlign:'middle'}
  });
});

const chart = echarts.init(document.getElementById('c'), null, {renderer:'canvas', width:791, height:1054});
chart.setOption(option);
</script>
</body></html>
